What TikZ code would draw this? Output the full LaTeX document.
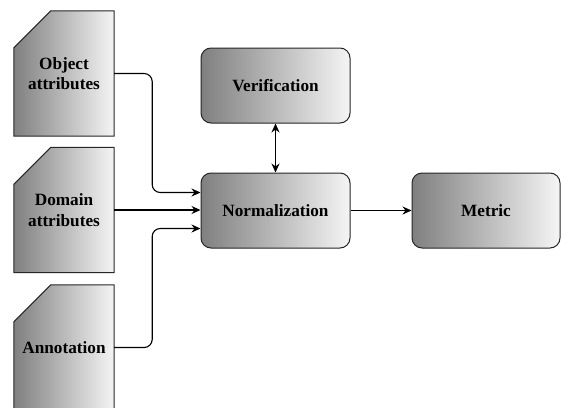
\documentclass[tikz,border=0pt]{standalone}
\usepackage{fontspec}
\setmainfont{Liberation Serif}
\usetikzlibrary{arrows.meta,backgrounds}
\begin{document}
\begin{tikzpicture}[x=1pt,y=-1pt,
  lbl/.style={font=\bfseries\fontsize{17.2}{20.5}\selectfont, align=center, text=black},
  procbox/.style={lbl, draw=black!85, line width=1pt, rounded corners=10pt,
    minimum width=149pt, minimum height=75pt, inner sep=0pt,
    left color=black!50, right color=black!4},
  docnode/.style={lbl, minimum width=100pt, minimum height=125pt, inner sep=0pt},
  docshape/.style={draw=black!85, line width=1pt, left color=black!50, right color=black!4},
  conn/.style={draw=black, line width=1.1pt, -{Stealth[length=9pt,width=8pt]}},
  dconn/.style={draw=black, line width=1.1pt, {Stealth[length=9pt,width=8pt]}-{Stealth[length=9pt,width=8pt]}}
]
\useasboundingbox (0,0) rectangle (561,407);

\node[docnode] (obj) at (64,73.5) {Object\\attributes};
\node[docnode] (dom) at (64,210) {Domain\\attributes};
\node[docnode] (ann) at (64,347.5) {Annotation};

\begin{scope}[on background layer]
\foreach \n in {obj,dom,ann}{
  \path[docshape] (\n.south west) -- ([yshift=-37pt]\n.north west) -- ([xshift=37pt]\n.north west)
    -- (\n.north east) -- (\n.south east) -- cycle;
}
\end{scope}

\node[procbox] (ver) at (275.5,85.5) {Verification};
\node[procbox] (norm) at (275.5,210.5) {Normalization};
\node[procbox, minimum width=148pt] (met) at (486,210.5) {Metric};

\draw[conn, rounded corners=8pt] (obj.east) -- ++(38,0) |- ([yshift=18pt]norm.west);
\draw[conn] (dom.east) -- (dom.east -| norm.west);
\draw[conn, rounded corners=8pt] (ann.east) -- ++(38,0) |- ([yshift=-18pt]norm.west);
\draw[dconn] (ver.south) -- (norm.north);
\draw[conn] (norm.east) -- (met.west);
\end{tikzpicture}
\end{document}
